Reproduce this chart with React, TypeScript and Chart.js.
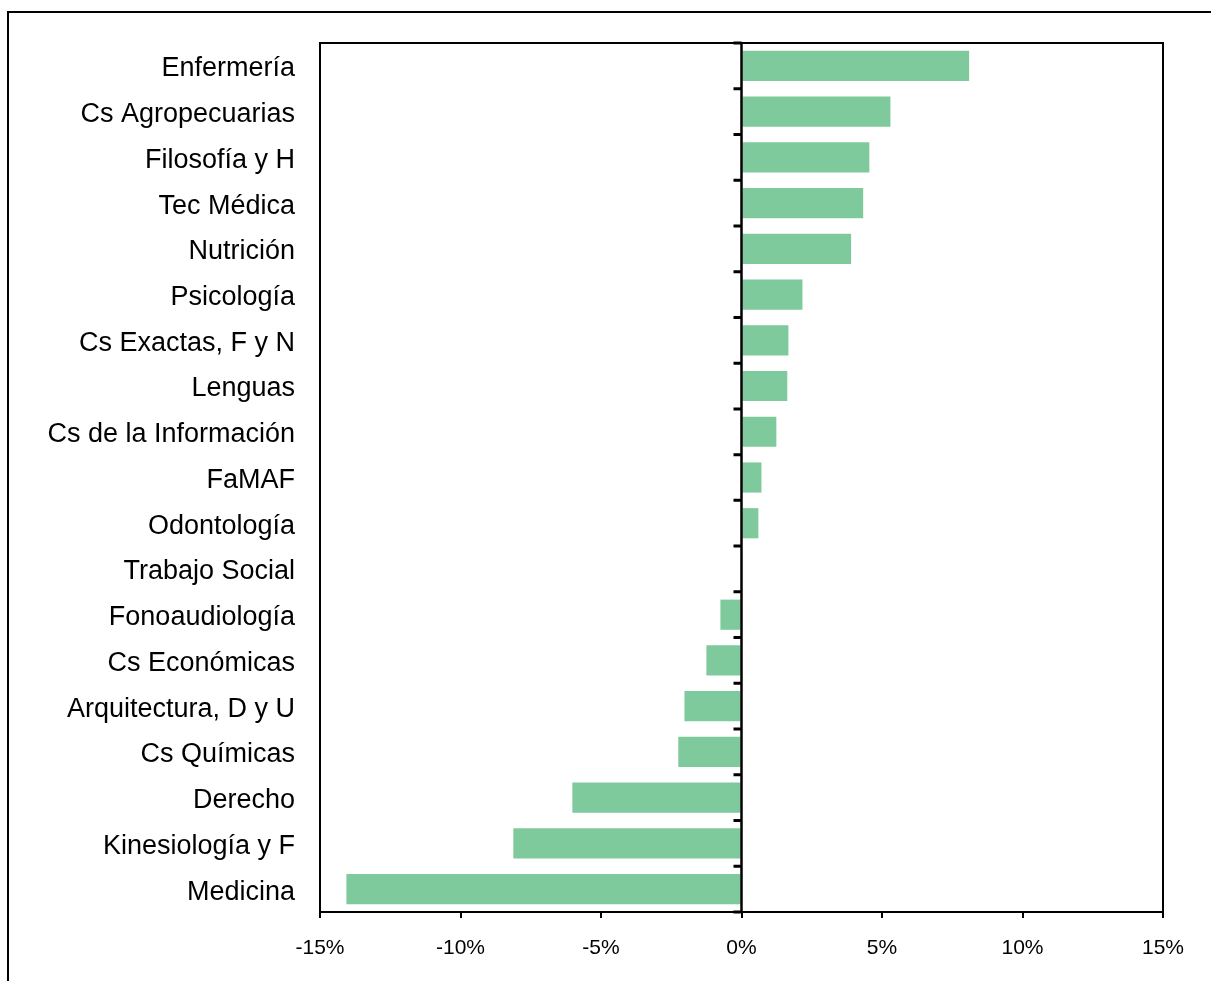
import React, { useEffect, useRef } from "react";
import { Chart, registerables } from "chart.js";

Chart.register(...registerables);

const categories = [
  "Enfermería",
  "Cs Agropecuarias",
  "Filosofía y H",
  "Tec Médica",
  "Nutrición",
  "Psicología",
  "Cs Exactas, F y N",
  "Lenguas",
  "Cs de la Información",
  "FaMAF",
  "Odontología",
  "Trabajo Social",
  "Fonoaudiología",
  "Cs Económicas",
  "Arquitectura, D y U",
  "Cs Químicas",
  "Derecho",
  "Kinesiología y F",
  "Medicina",
];

const changePct = [
  8.1, 5.3, 4.55, 4.33, 3.9, 2.17, 1.67, 1.63, 1.24, 0.71, 0.6, 0,
  -0.75, -1.25, -2.03, -2.25, -6.02, -8.12, -14.06,
];

const xTicks = [-15, -10, -5, 0, 5, 10, 15];

const FONT = "'Liberation Sans', Arial, Helvetica, sans-serif";

const framePlugin = {
  id: "frame",
  beforeDraw(chart: any) {
    const ctx = chart.ctx;
    ctx.save();
    ctx.strokeStyle = "#000";
    ctx.lineWidth = 2;
    ctx.beginPath();
    ctx.moveTo(8, chart.height + 5);
    ctx.lineTo(8, 12);
    ctx.lineTo(chart.width + 5, 12);
    ctx.stroke();
    ctx.restore();
  },
  afterDatasetsDraw(chart: any) {
    const ctx = chart.ctx;
    const area = chart.chartArea;
    const x = chart.scales.x;
    ctx.save();
    ctx.strokeStyle = "#000";
    ctx.lineWidth = 2;
    ctx.strokeRect(area.left, area.top, area.right - area.left, area.bottom - area.top);
    const x0 = x.getPixelForValue(0);
    ctx.lineWidth = 2.5;
    ctx.beginPath();
    ctx.moveTo(x0, area.top);
    ctx.lineTo(x0, area.bottom);
    ctx.stroke();
    const n = categories.length;
    const band = (area.bottom - area.top) / n;
    ctx.lineWidth = 3;
    ctx.beginPath();
    for (let i = 0; i <= n; i++) {
      const yy = area.top + i * band;
      ctx.moveTo(x0 - 8, yy);
      ctx.lineTo(x0, yy);
    }
    ctx.stroke();
    ctx.restore();
  },
};

export default function App() {
  const ref = useRef<HTMLCanvasElement | null>(null);
  useEffect(() => {
    if (!ref.current) return;
    const chart = new Chart(ref.current, {
      type: "bar",
      data: {
        labels: categories,
        datasets: [
          {
            data: changePct,
            backgroundColor: "#7FCA9C",
            borderWidth: 0,
            barPercentage: 0.66,
            categoryPercentage: 1,
          },
        ],
      },
      options: {
        indexAxis: "y",
        responsive: false,
        animation: false,
        layout: { padding: { top: 43, right: 48, left: 0, bottom: 0 } },
        plugins: { legend: { display: false }, tooltip: { enabled: false } },
        scales: {
          x: {
            min: -15,
            max: 15,
            afterBuildTicks: (s: any) => {
              s.ticks = xTicks.map((v) => ({ value: v }));
            },
            afterFit: (s: any) => {
              s.height = 69;
            },
            grid: {
              drawOnChartArea: false,
              drawTicks: true,
              tickLength: 6,
              color: "#000",
              lineWidth: 2,
            },
            border: { display: true, color: "#000", width: 2 },
            ticks: {
              color: "#000",
              font: { family: FONT, size: 21 },
              padding: 18,
              maxRotation: 0,
              callback: (v: any) => `${v}%`,
            },
          },
          y: {
            afterFit: (s: any) => {
              s.width = 320;
            },
            grid: { display: false },
            border: { display: false },
            ticks: {
              color: "#000",
              font: { family: FONT, size: 27 },
              padding: 17,
              labelOffset: 3,
              autoSkip: false,
            },
          },
        },
      },
      plugins: [framePlugin],
    });
    return () => chart.destroy();
  }, []);
  return (
    <div style={{ position: "fixed", left: 0, top: 0, width: 1211, height: 981, background: "#fff" }}>
      <canvas ref={ref} width={1211} height={981} style={{ width: 1211, height: 981, display: "block" }} />
    </div>
  );
}
